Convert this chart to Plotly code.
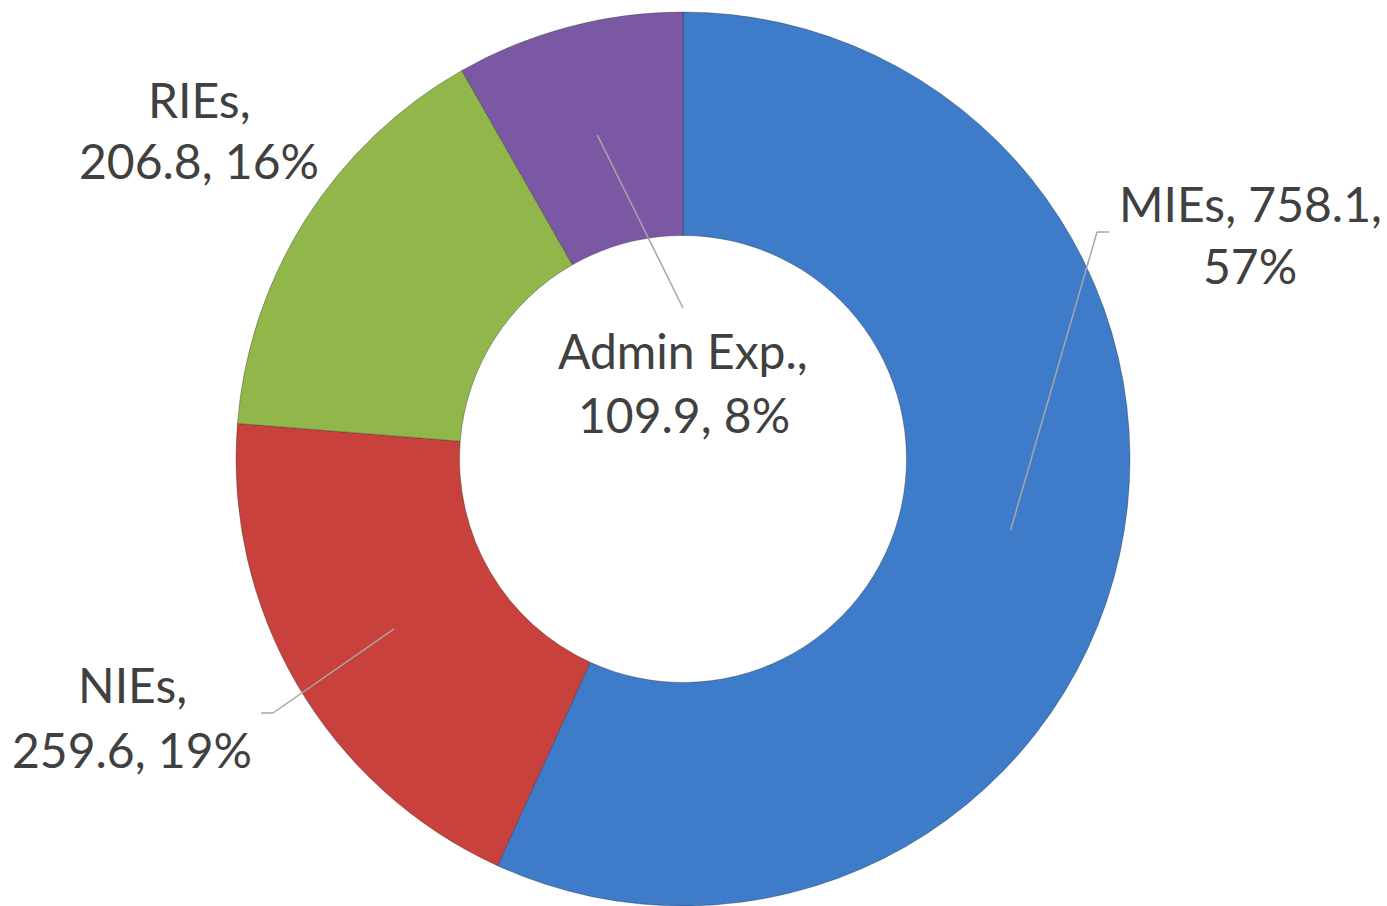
import math
import plotly.graph_objects as go

categories = ["MIEs", "NIEs", "RIEs", "Admin Exp."]
values = [758.1, 259.6, 206.8, 109.9]
percent_labels = ["57%", "19%", "16%", "8%"]
colors = ["#3E7BC8", "#C8413C", "#91B649", "#7A58A4"]

W, H = 1387, 906
CX, CY, R = 683, 459, 447  # pixel geometry of the donut
HOLE = 0.5

fig = go.Figure()
fig.add_trace(go.Pie(
    labels=categories,
    values=values,
    hole=HOLE,
    sort=False,
    direction="clockwise",
    rotation=0,
    textinfo="none",
    hoverinfo="label+value+percent",
    marker=dict(colors=colors, line=dict(color="rgba(40,40,40,0.35)", width=1)),
    domain=dict(x=[(CX - R) / W, (CX + R) / W], y=[0, (H - (CY - R)) / H]),
    showlegend=False,
))

# label text lines (pixel centers of each line)
label_lines = {
    "MIEs": [("MIEs, 758.1,", 1250, 203), ("57%", 1250, 266)],
    "NIEs": [("NIEs,", 132, 684), ("259.6, 19%", 132, 749)],
    "RIEs": [("RIEs,", 199, 99), ("206.8, 16%", 199, 160)],
    "Admin Exp.": [("Admin Exp.,", 683, 350), ("109.9, 8%", 684, 414)],
}
# leader line outer ends (elbow, end) in pixels
leader_ends = {
    "MIEs": [(1097, 232), (1109, 232)],
    "NIEs": [(273, 713), (261, 713)],
    "Admin Exp.": [(683, 308)],
}

def px2paper(x, y):
    return x / W, (H - y) / H

total = sum(values)
cum = 0.0
annotations = []
shapes = []
for cat, v in zip(categories, values):
    mid = (cum + v / 2) / total * 2 * math.pi
    cum += v
    rmid = R * (1 + HOLE) / 2
    sx = CX + rmid * math.sin(mid)
    sy = CY - rmid * math.cos(mid)
    if cat in leader_ends:
        pts = [(sx, sy)] + leader_ends[cat]
        for (x0, y0), (x1, y1) in zip(pts[:-1], pts[1:]):
            a0, b0 = px2paper(x0, y0)
            a1, b1 = px2paper(x1, y1)
            shapes.append(dict(type="line", xref="paper", yref="paper",
                               x0=a0, y0=b0, x1=a1, y1=b1,
                               line=dict(color="#A6A6A6", width=1.5)))
    for text, x, y in label_lines[cat]:
        ax, ay = px2paper(x, y)
        annotations.append(dict(text=text, x=ax, y=ay, xref="paper", yref="paper",
                                xanchor="center", yanchor="middle", showarrow=False,
                                font=dict(family="Lato", size=48, color="#404040")))

fig.update_layout(
    width=W, height=H,
    margin=dict(l=0, r=0, t=0, b=0),
    paper_bgcolor="white",
    plot_bgcolor="white",
    annotations=annotations,
    shapes=shapes,
)

fig.write_html("out.html")
